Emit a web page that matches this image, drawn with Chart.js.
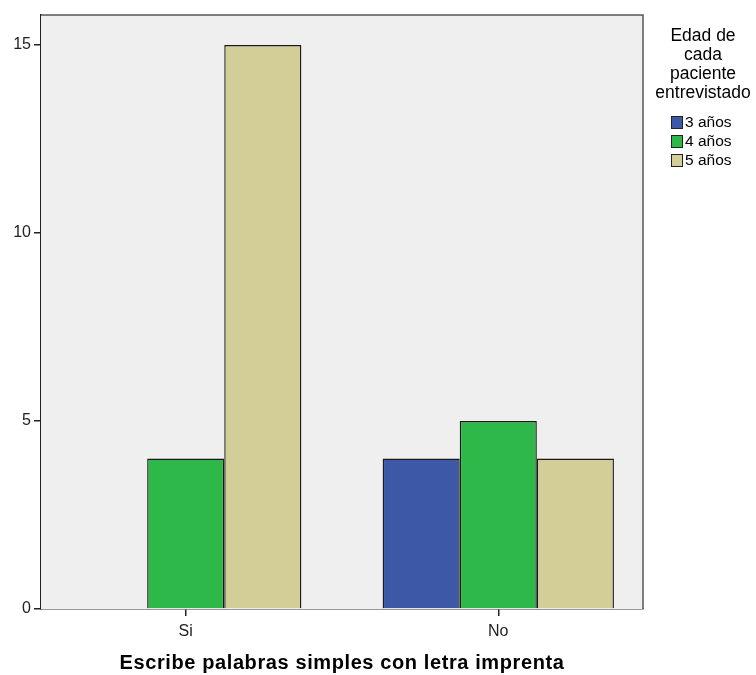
<!DOCTYPE html>
<html>
<head>
<meta charset="utf-8">
<script src="https://cdn.jsdelivr.net/npm/chart.js@4.4.1/dist/chart.umd.min.js"></script>
<style>
  html, body { margin: 0; padding: 0; background: #fff; }
  #wrap { width: 756px; height: 675px; }
</style>
</head>
<body>
<div id="wrap"><canvas id="chart"></canvas></div>
<script>
const categories = ["Si", "No"];
const edad3 = [null, 4];
const edad4 = [4, 5];
const edad5 = [15, 4];
const seriesLabels = ["3 años", "4 años", "5 años"];
const seriesColors = ["#3e58a8", "#2fb84a", "#d3ce98"];
const legendTitle = ["Edad de", "cada", "paciente", "entrevistado"];
const xTitle = "Escribe palabras simples con letra imprenta";

const FONT = "Arial, 'Liberation Sans', sans-serif";

// plot background + frame
const plotFrame = {
  id: "plotFrame",
  beforeDatasetsDraw(chart) {
    const { ctx, chartArea: a } = chart;
    ctx.save();
    ctx.fillStyle = "#efefef";
    ctx.fillRect(a.left, a.top, a.right - a.left, a.bottom - a.top);
    ctx.restore();
  },
  afterDatasetsDraw(chart) {
    const { ctx, chartArea: a } = chart;
    ctx.save();
    ctx.strokeStyle = "#555";
    ctx.lineWidth = 1.5;
    ctx.beginPath();
    ctx.moveTo(a.left, a.top);
    ctx.lineTo(a.right, a.top);
    ctx.lineTo(a.right, a.bottom);
    ctx.stroke();
    ctx.restore();
  }
};

// legend on the right with a multi-line title, plus the x axis title
const sideLegend = {
  id: "sideLegend",
  afterDraw(chart) {
    const ctx = chart.ctx;
    const a = chart.chartArea;
    ctx.save();
    ctx.fillStyle = "#000";
    ctx.textAlign = "center";
    ctx.textBaseline = "middle";
    ctx.font = "17.5px " + FONT;
    legendTitle.forEach((t, i) => ctx.fillText(t, 703, 36 + i * 19));
    ctx.textAlign = "left";
    ctx.font = "15.5px " + FONT;
    chart.data.datasets.forEach((ds, i) => {
      const y = 122 + i * 19;
      ctx.fillStyle = ds.backgroundColor;
      ctx.fillRect(671, y - 6, 11, 13);
      ctx.strokeStyle = "#222";
      ctx.lineWidth = 1;
      ctx.strokeRect(671.5, y - 5.5, 11, 12);
      ctx.fillStyle = "#000";
      ctx.fillText(ds.label, 685, y + 1);
    });

    ctx.font = "bold 20px " + FONT;
    ctx.letterSpacing = "0.6px";
    ctx.textAlign = "center";
    ctx.fillText(xTitle, (a.left + a.right) / 2, 663);
    ctx.restore();
  }
};

const datasets = [edad3, edad4, edad5].map((d, i) => ({
  label: seriesLabels[i],
  data: d,
  backgroundColor: seriesColors[i],
  borderColor: "#1a1a1a",
  borderWidth: 1.4,
  categoryPercentage: 0.74,
  barPercentage: 1.0,
  skipNull: false
}));

new Chart(document.getElementById("chart"), {
  type: "bar",
  data: { labels: categories, datasets: datasets },
  plugins: [plotFrame, sideLegend],
  options: {
    responsive: true,
    maintainAspectRatio: false,
    animation: false,
    layout: { padding: { top: 15, right: 113, left: 0, bottom: 0 } },
    plugins: {
      legend: { display: false },
      tooltip: { enabled: false }
    },
    scales: {
      x: {
        afterBuildTicks(scale) {
          // groups sit a little wider apart than the plain category spacing
          scale._startValue = -0.463;
          scale._valueRange = 1.926;
        },
        afterFit(scale) { scale.height = 66; },
        grid: { offset: false, drawOnChartArea: false, drawTicks: true, tickLength: 7, color: "#222", lineWidth: 1.5 },
        border: { color: "#333", width: 1.5 },
        ticks: { color: "#222", padding: 6, font: { size: 16, family: FONT } }
      },
      y: {
        min: 0,
        max: 15.8,
        afterFit(scale) { scale.width = 41; },
        grid: { drawOnChartArea: false, drawTicks: true, tickLength: 7, color: "#222", lineWidth: 1.5 },
        border: { color: "#222", width: 1.5 },
        ticks: {
          stepSize: 5,
          includeBounds: false,
          color: "#222",
          padding: 3,
          font: { size: 16, family: FONT }
        }
      }
    }
  }
});
</script>
</body>
</html>
